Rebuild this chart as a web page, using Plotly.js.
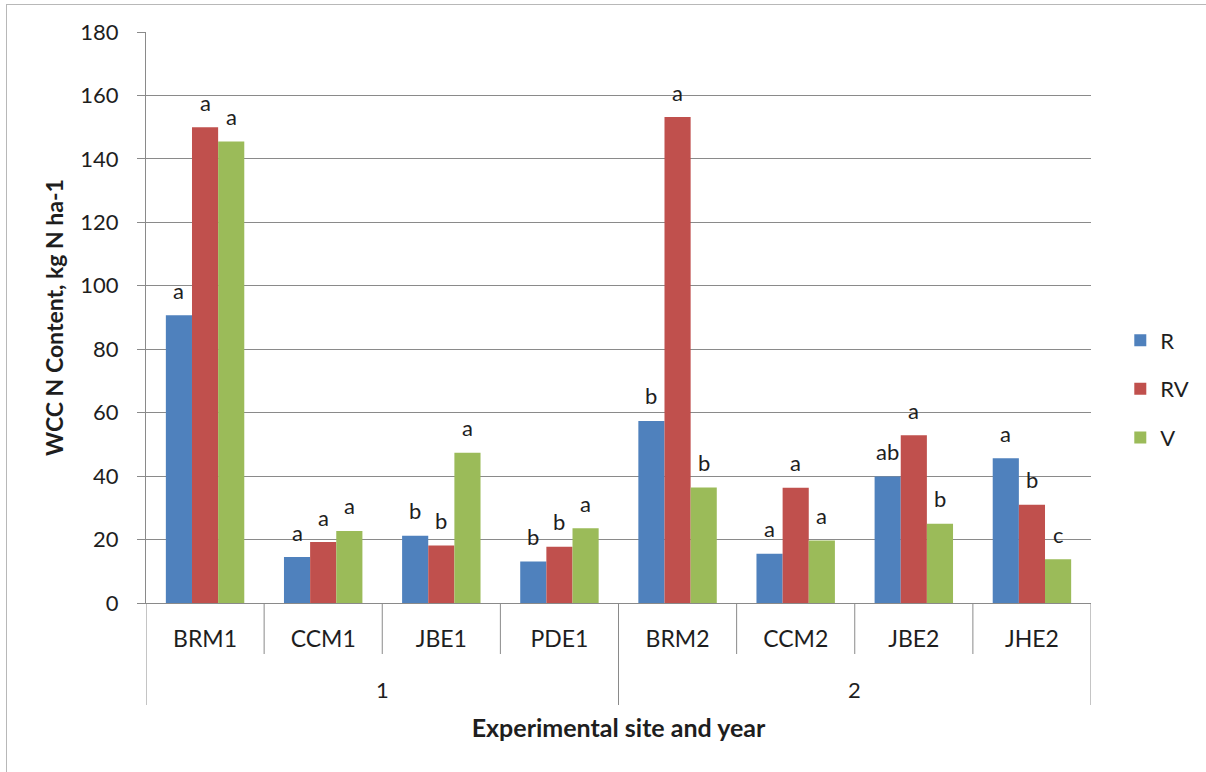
<!DOCTYPE html>
<html><head><meta charset="utf-8">
<script src="https://cdn.plot.ly/plotly-3.0.1.min.js"></script>
<style>
html,body{margin:0;padding:0;background:#fff;overflow:hidden}
#frame{position:absolute;left:6px;top:4px;width:1260px;height:820px;border:1px solid #b8b8b8;}
#chart{position:absolute;left:0;top:0;width:1206px;height:772px;}
</style></head><body>
<div id="frame"></div>
<div id="chart"></div>
<script>
// ---- data ----
const sites = ['BRM1','CCM1','JBE1','PDE1','BRM2','CCM2','JBE2','JHE2'];
const years = ['1','1','1','1','2','2','2','2'];
const seriesNames = ['R','RV','V'];
const valuesR  = [90.7, 14.5, 21.2, 13.1, 57.4, 15.5, 39.9, 45.6];
const valuesRV = [150.0, 19.2, 18.1, 17.7, 153.2, 36.3, 52.9, 31.0];
const valuesV  = [145.5, 22.7, 47.4, 23.6, 36.4, 19.7, 25.0, 13.8];
const lettersR  = ['a','a','b','b','b','a','ab','a'];
const lettersRV = ['a','a','b','b','a','a','a','b'];
const lettersV  = ['a','a','a','a','b','a','b','c'];
const yTickVals = [0,20,40,60,80,100,120,140,160,180];
const yTitle = 'WCC N Content, kg N ha-1';
const xTitle = 'Experimental site and year';

// ---- styling ----
const colors = ['#4F81BD','#C0504D','#9BBB59'];
const FONT = 'Lato, "Open Sans", sans-serif';
const TXT = '#1e1e1e';
const GRID = '#8a8a8a';
const W = 1206, H = 772;
const M = {l:146, r:112, t:32, b:169};
const plotH = H - M.t - M.b;
const bargap = 0.336;

const values = [valuesR, valuesRV, valuesV];
const letters = [lettersR, lettersRV, lettersV];

const traces = seriesNames.map((nm, k) => ({
  type:'bar', name:nm, x:sites, y:values[k],
  marker:{color:colors[k]}, legendgroup:nm, hoverinfo:'x+y+name'
}));

const barW = (1 - bargap) / seriesNames.length;
const annotations = [];
seriesNames.forEach((nm, k) => {
  values[k].forEach((v, i) => {
    annotations.push({
      x: i + (k - (seriesNames.length - 1) / 2) * barW, xref:'x',
      y: v, yref:'y', yshift: 25, yanchor:'middle', xanchor:'center',
      text: letters[k][i], showarrow:false,
      font:{family:FONT, size:22, color:TXT}
    });
  });
});

// year group labels and dividers
const shapes = [];
const px2paper = p => -p / plotH;
const groups = [];
years.forEach((yv, i) => {
  if (i === 0 || yv !== years[i-1]) groups.push({label:yv, start:i, end:i});
  else groups[groups.length-1].end = i;
});
groups.forEach(g => {
  annotations.push({
    x: (g.start + g.end) / 2, xref:'x', y: px2paper(86), yref:'paper',
    yanchor:'middle', xanchor:'center', text:g.label, showarrow:false,
    font:{family:FONT, size:22, color:TXT}
  });
});
for (let b = 0; b <= sites.length; b++) {
  const isYear = (b === 0 || b === sites.length || years[b] !== years[b-1]);
  shapes.push({
    type:'line', xref:'x', yref:'paper', x0:b-0.5, x1:b-0.5,
    y0:0, y1: px2paper(isYear ? 102 : 51),
    line:{color:GRID, width:1}
  });
}

const layout = {
  width:W, height:H, margin:M,
  paper_bgcolor:'rgba(0,0,0,0)', plot_bgcolor:'#fff',
  barmode:'group', bargap:bargap, bargroupgap:0,
  font:{family:FONT, size:21, color:TXT},
  showlegend:true,
  legend:{x:1.031, xanchor:'left', y:0.375, yanchor:'middle',
          font:{family:FONT, size:22, color:TXT}, traceorder:'grouped',
          tracegroupgap:17, bgcolor:'rgba(0,0,0,0)'},
  xaxis:{type:'category', range:[-0.5, sites.length-0.5], showgrid:false,
         showline:true, linecolor:GRID, linewidth:1, ticks:'', zeroline:false,
         ticklabelstandoff:15, tickfont:{family:FONT, size:23, color:TXT},
         title:{text:xTitle, standoff:68, font:{family:FONT, size:25, color:TXT, weight:'bold'}}},
  yaxis:{range:[0,180], tickvals:yTickVals, showgrid:true, gridcolor:GRID, gridwidth:1,
         showline:true, linecolor:GRID, linewidth:1, ticks:'outside', ticklen:8,
         tickcolor:GRID, zeroline:false, ticklabelstandoff:14,
         tickfont:{family:FONT, size:22, color:TXT},
         title:{text:yTitle, standoff:10, font:{family:FONT, size:23, color:TXT, weight:'bold'}}},
  annotations:annotations, shapes:shapes
};

Plotly.newPlot('chart', traces, layout, {displayModeBar:false, staticPlot:true});
</script>
</body></html>
